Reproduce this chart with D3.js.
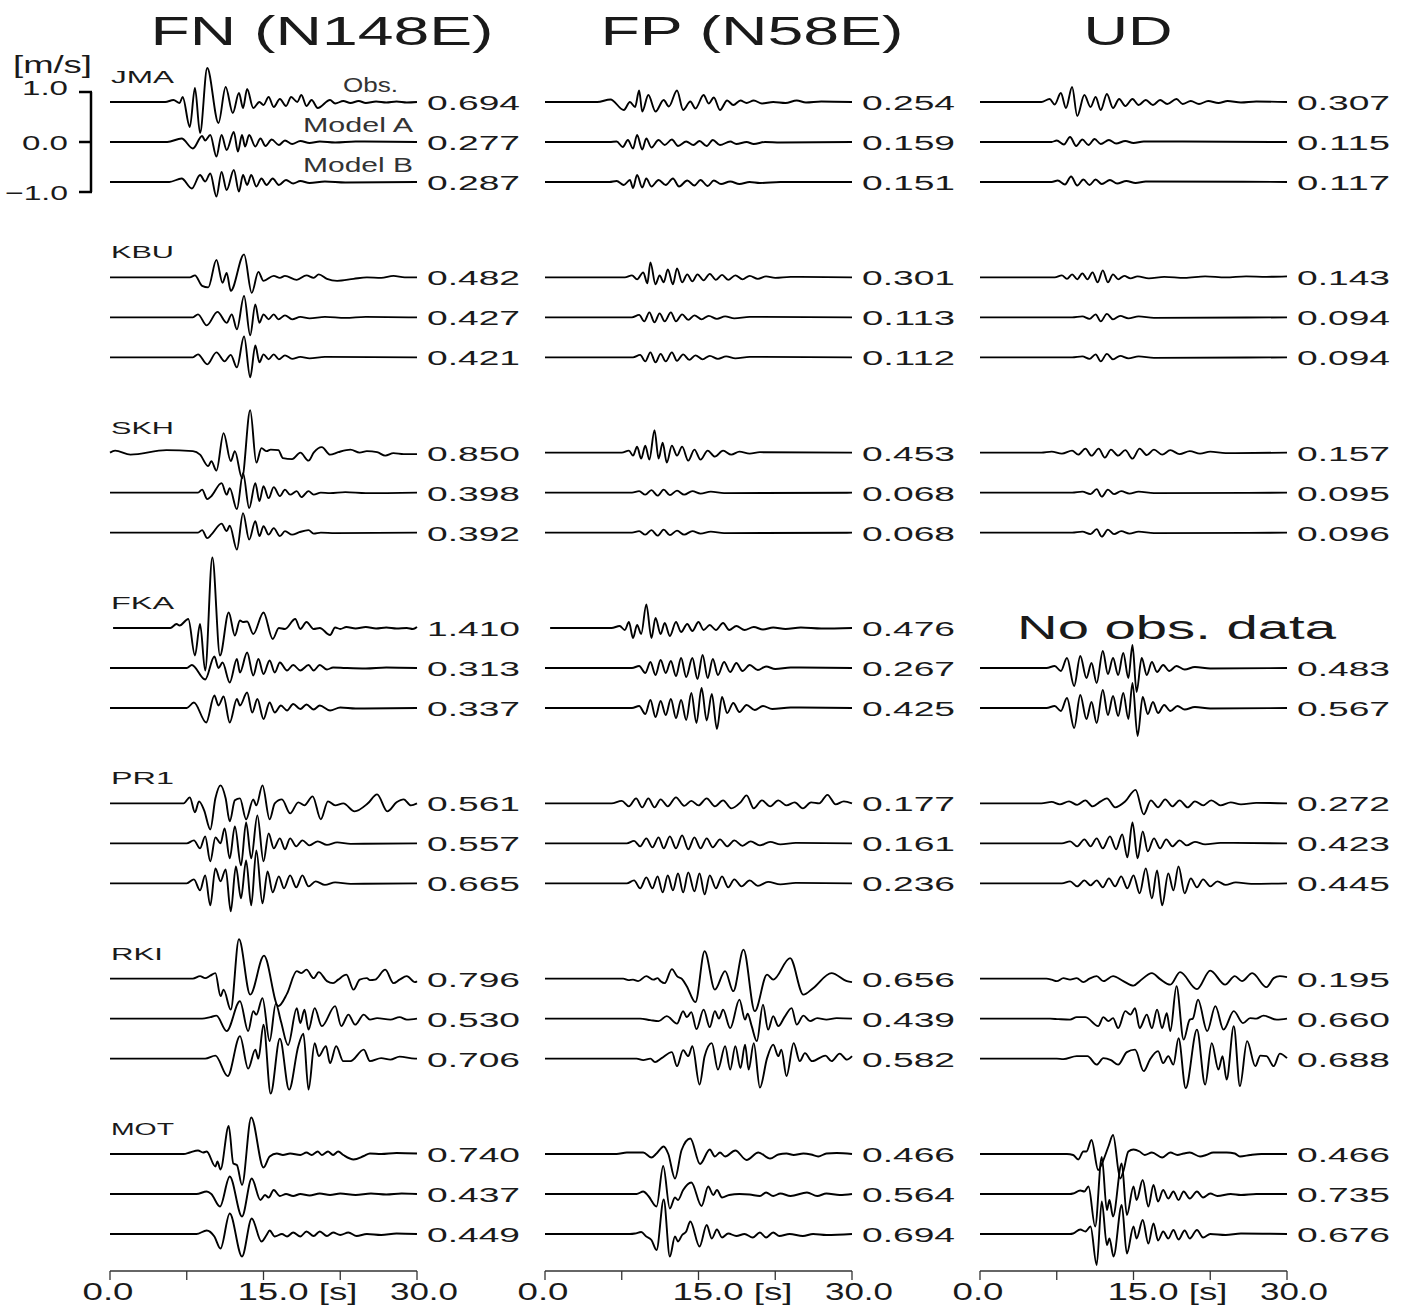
<!DOCTYPE html>
<html>
<head>
<meta charset="utf-8">
<script src="https://cdn.jsdelivr.net/npm/d3@7"></script>
<style>
  body { margin: 0; background: #fff; }
  text { font-family: "Liberation Sans", Arial, sans-serif; fill: #1a1a1a; }
</style>
</head>
<body>
<svg id="chart" width="1411" height="1307"></svg>
<script>
// stations, components and the peak velocities printed at the right of every trace
var stations = ["JMA", "KBU", "SKH", "FKA", "PR1", "RKI", "MOT"];
var components = ["FN (N148E)", "FP (N58E)", "UD"];
var traceNames = ["Obs.", "Model A", "Model B"];

var peakFN = [[0.694, 0.277, 0.287], [0.482, 0.427, 0.421], [0.850, 0.398, 0.392], [1.410, 0.313, 0.337],
              [0.561, 0.557, 0.665], [0.796, 0.530, 0.706], [0.740, 0.437, 0.449]];
var peakFP = [[0.254, 0.159, 0.151], [0.301, 0.113, 0.112], [0.453, 0.068, 0.068], [0.476, 0.267, 0.425],
              [0.177, 0.161, 0.236], [0.656, 0.439, 0.582], [0.466, 0.564, 0.694]];
var peakUD = [[0.307, 0.115, 0.117], [0.143, 0.094, 0.094], [0.157, 0.095, 0.096], [null, 0.483, 0.567],
              [0.272, 0.423, 0.445], [0.195, 0.660, 0.688], [0.466, 0.735, 0.676]];

var timeTicks = [0, 7.5, 15, 22.5, 30];
var scaleTicks = [-1, 0, 1];

// waveforms: [time s, velocity m/s] at the turning points
// each station/component = [Obs., Model A, Model B]
var jmaFN = [
  [[0,0],[5.4,0],[6.2,0.04],[6.8,-0.02],[7.1,0.1],[7.8,-0.5],[8.3,0.28],[8.8,-0.62],[9.5,0.68],[10.6,-0.42],[11.3,0.3],[12.0,-0.22],[12.6,0.18],[13.0,-0.12],[13.4,0.26],[14.0,-0.12],[14.6,0.0],[15.0,-0.06],[15.5,0.1],[16.0,-0.1],[16.6,0.06],[17.2,-0.08],[17.7,0.1],[18.3,0.0],[18.7,0.14],[19.2,-0.08],[19.7,0.04],[20.3,-0.12],[21.5,0.04],[22.0,-0.03],[22.8,0.02],[23.5,-0.02],[24.3,0.02],[25,-0.02],[26,0.01],[27,-0.01],[28,0.01],[29,-0.01],[30,0]],
  [[0,0],[5.6,0],[7.0,0.07],[8.1,-0.13],[9.0,0.12],[9.3,0.03],[9.8,0.14],[10.4,-0.29],[10.9,0.14],[11.4,-0.16],[12.1,0.2],[12.5,-0.19],[12.9,0.14],[13.2,-0.09],[13.6,0.14],[14.2,-0.09],[14.7,0.07],[15.2,-0.08],[15.8,0.05],[16.5,-0.06],[17.1,0.03],[17.8,-0.04],[18.6,0.02],[19.5,-0.02],[20.5,0.01],[22,-0.01],[24,0.01],[30,0]],
  [[0,0],[5.8,0],[7.0,0.07],[8.0,-0.13],[8.8,0.14],[9.3,0.01],[9.8,0.17],[10.4,-0.29],[10.9,0.2],[11.4,-0.16],[12.1,0.24],[12.6,-0.19],[13.0,0.14],[13.4,-0.06],[13.8,0.14],[14.3,-0.09],[14.8,0.07],[15.3,-0.06],[15.9,0.07],[16.5,-0.06],[17.2,0.04],[17.9,-0.03],[18.6,0.02],[19.5,-0.02],[21,0.01],[23,-0.01],[30,0]]
];
var jmaFP = [
  [[0,0],[5.1,0],[6.4,0.05],[7.7,-0.16],[8.3,0.0],[8.8,-0.1],[9.2,0.23],[9.5,-0.19],[10.1,0.14],[10.8,-0.19],[11.6,0.04],[12.1,-0.09],[12.9,0.23],[13.5,-0.16],[14.2,0.01],[14.7,-0.13],[15.5,0.14],[16.0,-0.03],[16.5,0.09],[17.1,-0.16],[17.8,0.03],[18.4,-0.06],[19.1,0.03],[19.7,-0.02],[20.4,0.03],[21.2,-0.03],[22.3,0.0],[23.5,-0.02],[24.6,0.03],[25.5,-0.01],[27,0.01],[30,0]],
  [[0,0],[6.3,0],[7.0,0.01],[7.6,-0.1],[8.1,0.04],[8.6,-0.13],[9.0,0.14],[9.5,-0.15],[9.9,0.07],[10.4,-0.11],[11.1,0.04],[11.7,-0.06],[12.4,0.05],[13.0,-0.08],[13.8,0.01],[14.5,-0.06],[15.1,0.02],[15.8,-0.08],[16.4,0.04],[17.1,-0.06],[18.1,0.01],[18.7,-0.04],[19.7,0.0],[20.4,-0.04],[21.5,0.0],[23,-0.01],[30,0]],
  [[0,0],[6.3,0],[7.0,0.02],[7.7,-0.06],[8.3,0.04],[8.6,-0.12],[9.0,0.14],[9.5,-0.11],[9.9,0.07],[10.4,-0.09],[11.1,0.04],[11.8,-0.06],[12.5,0.07],[13.1,-0.09],[13.9,0.03],[14.6,-0.07],[15.2,0.04],[15.9,-0.08],[16.5,0.03],[17.2,-0.04],[18.1,0.01],[19.0,-0.04],[20,0.0],[21,-0.02],[23,0.0],[30,0]]
];
var jmaUD = [
  [[0,0],[6.0,0],[6.8,0.06],[7.3,-0.05],[7.9,0.18],[8.4,-0.12],[9.0,0.3],[9.5,-0.28],[10.2,0.14],[10.8,-0.1],[11.3,0.1],[11.8,-0.16],[12.4,0.16],[13.0,-0.12],[13.6,0.06],[14.2,-0.08],[14.9,0.06],[15.5,-0.06],[16.2,0.04],[16.9,-0.06],[17.6,0.04],[18.3,-0.04],[19.2,0.06],[19.8,-0.04],[20.6,0.02],[21.4,-0.04],[22.3,0.02],[23.3,-0.02],[24.2,0.02],[25.5,-0.01],[27,0.01],[30,0]],
  [[0,0],[7.0,0],[7.5,0.03],[8.2,-0.05],[8.8,0.1],[9.4,-0.08],[10.0,0.05],[10.6,-0.06],[11.2,0.06],[11.8,-0.04],[12.6,0.04],[13.3,-0.03],[14.2,0.02],[15,-0.02],[16,0.01],[30,0]],
  [[0,0],[7.0,0],[7.6,0.03],[8.3,-0.05],[8.9,0.11],[9.5,-0.07],[10.1,0.05],[10.7,-0.06],[11.3,0.05],[11.9,-0.04],[12.7,0.04],[13.4,-0.03],[14.3,0.02],[15.2,-0.02],[16.2,0.01],[30,0]]
];

var kbuFN = [
  [[0,0],[7.8,0],[8.3,0.04],[9.0,-0.17],[9.6,-0.2],[10.4,0.35],[11.0,-0.11],[11.4,0.09],[11.8,-0.27],[13.1,0.46],[13.85,-0.31],[14.5,0.11],[15.0,-0.07],[16.0,0.03],[16.6,-0.01],[17.1,0.03],[18.25,-0.05],[19.2,0.04],[19.9,-0.01],[20.4,0.06],[21.2,-0.03],[22.2,-0.07],[23.8,-0.03],[25.1,0.0],[26.5,-0.01],[27.7,0.03],[28.8,0.0],[30,0]],
  [[0,0],[8.1,0],[8.6,0.06],[9.45,-0.16],[10.5,0.11],[11.4,-0.11],[11.9,0.06],[12.4,-0.24],[13.1,0.43],[13.7,-0.36],[14.2,0.26],[14.6,-0.11],[15.0,0.06],[15.5,-0.04],[16.0,0.06],[16.45,-0.04],[17.1,0.04],[17.8,-0.04],[18.6,0.01],[19.5,-0.02],[21,0.01],[23,-0.01],[25,0.01],[30,0]],
  [[0,0],[8.1,0],[8.6,0.06],[9.5,-0.14],[10.4,0.1],[11.2,-0.08],[11.8,0.05],[12.4,-0.2],[13.1,0.42],[13.7,-0.4],[14.2,0.24],[14.6,-0.1],[15.0,0.06],[15.5,-0.04],[16.0,0.06],[16.5,-0.04],[17.1,0.04],[17.8,-0.03],[18.6,0.01],[19.5,-0.02],[21,0.01],[30,0]]
];
var kbuFP = [
  [[0,0],[7.8,0],[8.5,0.04],[9.0,-0.04],[9.6,0.1],[10.0,-0.12],[10.3,0.3],[10.8,-0.14],[11.2,0.04],[11.6,-0.1],[12.0,0.16],[12.5,-0.14],[12.9,0.18],[13.4,-0.1],[13.9,0.06],[14.4,-0.08],[14.9,0.06],[15.5,-0.06],[16.1,0.07],[16.7,-0.05],[17.3,0.05],[17.9,-0.05],[18.6,0.04],[19.3,-0.04],[20.0,0.03],[20.8,-0.03],[21.6,0.02],[22.5,-0.01],[24,0.01],[30,0]],
  [[0,0],[8.5,0],[9.2,0.05],[9.7,-0.08],[10.2,0.1],[10.7,-0.1],[11.2,0.08],[11.7,-0.08],[12.3,0.1],[12.8,-0.08],[13.4,0.06],[14.0,-0.05],[14.6,0.04],[15.3,-0.04],[16.0,0.03],[16.8,-0.03],[17.6,0.02],[18.5,-0.02],[20,0.01],[30,0]],
  [[0,0],[8.6,0],[9.3,0.05],[9.8,-0.08],[10.3,0.1],[10.8,-0.1],[11.3,0.07],[11.8,-0.08],[12.4,0.1],[12.9,-0.07],[13.5,0.06],[14.1,-0.05],[14.7,0.04],[15.4,-0.04],[16.1,0.03],[16.9,-0.03],[17.7,0.02],[18.6,-0.02],[20,0.01],[30,0]]
];
var kbuUD = [
  [[0,0],[7.3,0],[8.0,0.04],[8.5,-0.03],[9.0,0.06],[9.5,-0.04],[10.0,0.08],[10.5,-0.04],[11.0,0.1],[11.5,-0.1],[12.0,0.14],[12.5,-0.1],[13.0,0.06],[13.5,-0.04],[14.1,0.03],[14.7,-0.02],[15.4,0.02],[16.5,-0.02],[18,0.01],[20,-0.01],[22,0.02],[24,0.0],[26,0.02],[28,0.01],[30,0.02]],
  [[0,0],[9,0],[10,0.02],[10.7,-0.03],[11.3,0.06],[11.8,-0.08],[12.4,0.07],[13.0,-0.04],[13.7,0.03],[14.5,-0.02],[15.5,0.02],[17,-0.01],[30,0]],
  [[0,0],[9,0],[10,0.02],[10.7,-0.03],[11.3,0.06],[11.8,-0.08],[12.4,0.07],[13.0,-0.04],[13.7,0.03],[14.5,-0.02],[15.5,0.02],[17,-0.01],[30,0]]
];

var skhFN = [
  [[0,0],[0.5,0.04],[2.0,-0.04],[5.5,0.05],[8.1,0.03],[8.8,-0.04],[9.6,-0.27],[9.9,-0.17],[10.4,-0.36],[11.1,0.39],[11.8,-0.17],[12.2,0.03],[12.9,-0.51],[13.7,0.85],[14.3,-0.2],[14.8,0.09],[15.3,0.03],[15.7,0.06],[16.45,0.05],[16.9,-0.11],[17.8,-0.13],[18.6,0.0],[19.4,-0.16],[19.9,0.0],[20.7,0.11],[21.5,-0.04],[22.3,0.01],[23.5,0.06],[24.4,0.0],[25.1,0.03],[26.1,0.01],[26.9,-0.06],[27.7,-0.01],[28.7,-0.03],[30,-0.03]],
  [[0,0],[8.6,0],[9.0,0.06],[9.5,-0.13],[9.9,-0.07],[10.9,0.19],[11.4,-0.04],[11.7,0.09],[12.4,-0.33],[13.0,0.39],[13.6,-0.31],[14.2,0.19],[14.6,-0.17],[15.0,0.13],[15.5,-0.11],[16.0,0.11],[16.6,-0.07],[17.1,0.06],[17.6,-0.04],[18.25,0.03],[18.7,-0.09],[19.4,0.03],[19.9,-0.04],[20.6,0.0],[21.5,-0.01],[23,0.01],[25,-0.01],[30,0]],
  [[0,0],[8.6,0],[9.0,0.05],[9.5,-0.11],[9.9,-0.04],[10.9,0.18],[11.4,0.03],[11.7,0.14],[12.4,-0.34],[13.0,0.39],[13.6,-0.14],[14.2,0.23],[14.6,-0.07],[15.0,0.13],[15.5,-0.04],[16.0,0.09],[16.6,-0.07],[17.1,0.03],[17.8,-0.04],[18.5,0.01],[19.4,0.05],[19.9,-0.02],[20.6,0.0],[22,-0.01],[30,0]]
];
var skhFP = [
  [[0,0],[7.5,0],[8.2,0.04],[8.6,-0.06],[9.0,0.12],[9.4,-0.12],[9.8,0.14],[10.2,-0.14],[10.7,0.45],[11.1,-0.12],[11.5,0.2],[11.9,-0.2],[12.4,0.14],[12.9,-0.06],[13.4,0.12],[14.0,-0.16],[14.6,0.06],[15.2,-0.14],[15.9,0.04],[16.6,-0.08],[17.4,0.04],[18.2,-0.04],[19.0,0.02],[20,-0.02],[21,0.01],[30,0]],
  [[0,0],[8.5,0],[9.2,0.03],[9.8,-0.04],[10.4,0.05],[11.0,-0.06],[11.6,0.06],[12.2,-0.05],[12.9,0.04],[13.6,-0.04],[14.4,0.03],[15.2,-0.02],[16.2,0.02],[17.5,-0.01],[30,0]],
  [[0,0],[8.5,0],[9.2,0.03],[9.8,-0.04],[10.4,0.05],[11.0,-0.06],[11.6,0.06],[12.2,-0.05],[12.9,0.04],[13.6,-0.04],[14.4,0.03],[15.2,-0.02],[16.2,0.02],[17.5,-0.01],[30,0]]
];
var skhUD = [
  [[0,0],[6,0],[7,0.02],[8,-0.02],[9,0.04],[9.6,-0.04],[10.3,0.08],[10.9,-0.06],[11.6,0.08],[12.2,-0.1],[12.8,0.06],[13.5,-0.06],[14.2,0.05],[14.9,-0.12],[15.6,0.08],[16.3,-0.05],[17.0,0.06],[17.8,-0.04],[18.6,0.05],[19.5,-0.03],[20.5,0.03],[21.5,-0.02],[22.5,0.02],[24,-0.01],[30,0]],
  [[0,0],[9,0],[10,0.02],[10.8,-0.03],[11.4,0.07],[11.9,-0.08],[12.5,0.06],[13.1,-0.03],[13.8,0.03],[14.6,-0.02],[15.5,0.02],[17,-0.01],[30,0]],
  [[0,0],[9,0],[10,0.02],[10.8,-0.03],[11.4,0.07],[11.9,-0.08],[12.5,0.06],[13.1,-0.03],[13.8,0.03],[14.6,-0.02],[15.5,0.02],[17,-0.01],[30,0]]
];

var fkaFN = [
  [[0.3,0],[5.9,0],[6.5,0.08],[6.8,0.05],[7.65,0.18],[8.3,-0.55],[8.8,0.08],[9.3,-0.85],[10.0,1.41],[10.75,-0.55],[11.6,0.31],[12.2,-0.15],[12.7,0.15],[13.0,0.12],[13.4,0.13],[14.0,-0.12],[15.0,0.31],[15.9,-0.22],[16.5,0.0],[17.1,-0.02],[18.1,0.18],[18.6,-0.02],[19.2,0.12],[19.9,-0.02],[20.5,0.0],[21.5,-0.14],[22.0,0.01],[22.5,-0.02],[23.1,0.02],[24,-0.01],[25,0.02],[26,-0.01],[27,0.01],[28,-0.01],[29,0.0],[29.6,-0.02],[30,0.02]],
  [[0,0],[7.5,0],[8.0,0.06],[9.3,-0.23],[10.2,0.23],[10.6,0.0],[11.0,0.11],[11.7,-0.29],[12.4,0.18],[12.7,-0.09],[13.4,0.31],[14.0,-0.15],[14.5,0.18],[15.0,-0.12],[15.6,0.15],[16.1,-0.09],[16.6,0.11],[17.3,-0.05],[17.9,0.06],[18.6,-0.05],[19.4,0.06],[19.9,-0.05],[20.5,0.06],[21.2,-0.03],[21.8,0.01],[23,0.0],[25,-0.01],[27,0.01],[30,0]],
  [[0,0],[7.5,0],[8.2,0.11],[9.4,-0.29],[10.2,0.25],[10.6,0.05],[11.1,0.23],[11.7,-0.29],[12.4,0.18],[12.7,0.05],[13.4,0.31],[13.9,-0.09],[14.4,0.18],[15.0,-0.22],[15.6,0.11],[16.1,-0.09],[16.7,0.05],[17.3,-0.05],[17.9,0.08],[18.6,-0.02],[19.2,0.07],[19.9,-0.03],[20.5,0.05],[21.5,-0.05],[22.5,0.01],[24,-0.01],[30,0]]
];
var fkaFP = [
  [[0.5,0],[6.5,0],[7.3,0.04],[7.8,-0.04],[8.2,0.12],[8.6,-0.2],[9.0,0.06],[9.4,-0.12],[9.9,0.47],[10.4,-0.2],[10.8,0.2],[11.3,-0.12],[11.7,0.1],[12.2,-0.16],[12.8,0.12],[13.3,-0.08],[13.9,0.08],[14.4,-0.06],[15.0,0.12],[15.5,-0.04],[16.1,0.06],[16.7,-0.04],[17.4,0.1],[18.0,-0.04],[18.7,0.04],[19.5,-0.04],[20.4,0.02],[21.3,-0.03],[22.3,0.01],[23.5,-0.02],[25,0.01],[27,-0.01],[30,0]],
  [[0,0],[8.5,0],[9.2,0.04],[9.8,-0.1],[10.3,0.12],[10.8,-0.14],[11.3,0.16],[11.8,-0.1],[12.3,0.14],[12.8,-0.16],[13.3,0.2],[13.8,-0.18],[14.4,0.2],[14.9,-0.22],[15.4,0.26],[15.9,-0.2],[16.4,0.18],[16.9,-0.14],[17.5,0.12],[18.1,-0.08],[18.7,0.1],[19.3,-0.06],[20.0,0.06],[20.8,-0.04],[21.6,0.03],[22.5,-0.02],[24,0.01],[30,0]],
  [[0,0],[8.5,0],[9.2,0.04],[9.8,-0.12],[10.3,0.16],[10.8,-0.18],[11.3,0.14],[11.8,-0.14],[12.3,0.18],[12.8,-0.2],[13.3,0.16],[13.8,-0.24],[14.3,0.3],[14.8,-0.3],[15.3,0.4],[15.8,-0.25],[16.3,0.28],[16.8,-0.42],[17.3,0.22],[17.8,-0.1],[18.4,0.1],[19.0,-0.08],[19.7,0.06],[20.5,-0.04],[21.3,0.04],[22.2,-0.02],[24,0.01],[30,0]]
];
var fkaUD = [
  null,
  [[0,0],[6.5,0],[7.3,0.04],[7.9,-0.06],[8.5,0.2],[9.2,-0.36],[9.8,0.24],[10.4,-0.2],[10.9,0.1],[11.4,-0.3],[12.0,0.34],[12.5,-0.12],[13.0,0.2],[13.5,-0.14],[14.0,0.3],[14.5,-0.2],[14.9,0.46],[15.3,-0.48],[15.8,0.2],[16.3,-0.14],[16.8,0.12],[17.3,-0.08],[17.9,0.06],[18.5,-0.06],[19.2,0.04],[20.0,-0.03],[21,0.02],[22.5,-0.01],[30,0]],
  [[0,0],[6.5,0],[7.3,0.04],[7.9,-0.06],[8.5,0.2],[9.2,-0.4],[9.8,0.26],[10.4,-0.22],[10.9,0.12],[11.4,-0.3],[12.0,0.36],[12.5,-0.14],[13.0,0.24],[13.5,-0.16],[14.0,0.3],[14.5,-0.22],[14.9,0.5],[15.4,-0.56],[15.9,0.22],[16.4,-0.12],[16.9,0.12],[17.4,-0.1],[18.0,0.06],[18.6,-0.06],[19.3,0.04],[20.0,-0.03],[21,0.02],[22.5,-0.01],[30,0]]
];

var pr1FN = [
  [[0,0],[7.2,0],[7.8,0.12],[8.3,-0.18],[8.7,0.04],[9.2,-0.14],[9.8,-0.52],[10.3,0.1],[10.8,0.36],[11.3,0.1],[11.7,-0.36],[12.2,0.06],[12.7,0.1],[13.3,-0.32],[14.0,0.08],[14.3,-0.04],[14.9,0.36],[15.6,-0.32],[16.1,0.0],[16.8,0.08],[17.6,-0.2],[18.4,0.02],[19.0,-0.04],[19.8,0.14],[20.6,-0.32],[21.3,0.04],[22.0,-0.04],[22.8,0.0],[23.9,-0.16],[25.2,0.0],[26.1,0.18],[27.1,-0.16],[28.0,0.02],[28.7,0.08],[29.4,-0.04],[30,0]],
  [[0,0],[7.5,0],[8.2,0.06],[8.8,-0.1],[9.3,0.14],[9.8,-0.36],[10.3,0.12],[10.8,0.0],[11.2,0.3],[11.7,-0.3],[12.2,0.34],[12.8,-0.44],[13.3,0.42],[13.8,-0.3],[14.4,0.56],[15.0,-0.36],[15.5,0.2],[16.0,-0.1],[16.6,0.1],[17.1,-0.12],[17.6,0.1],[18.2,-0.06],[18.8,0.06],[19.5,-0.04],[20.3,0.04],[21.2,-0.03],[22.2,0.02],[23.5,-0.01],[30,0]],
  [[0,0],[7.5,0],[8.2,0.08],[8.8,-0.14],[9.3,0.16],[9.8,-0.44],[10.3,0.3],[10.8,0.04],[11.3,0.28],[11.8,-0.56],[12.3,0.34],[12.8,-0.3],[13.3,0.46],[13.8,-0.44],[14.3,0.66],[14.9,-0.4],[15.4,0.24],[15.9,-0.18],[16.5,0.14],[17.0,-0.1],[17.6,0.16],[18.2,-0.08],[18.8,0.16],[19.4,-0.06],[20.1,0.04],[21,-0.03],[22,0.02],[23.5,-0.01],[30,0]]
];
var pr1FP = [
  [[0,0],[6.5,0],[7.5,0.05],[8.2,-0.06],[8.9,0.1],[9.5,-0.08],[10.1,0.1],[10.7,-0.08],[11.3,0.08],[12.0,-0.06],[12.8,0.12],[13.6,-0.05],[14.3,0.05],[15.0,-0.04],[15.8,0.1],[16.6,-0.06],[17.4,0.06],[18.2,-0.1],[19.1,0.02],[19.7,0.16],[20.4,-0.1],[21.2,0.06],[22.0,-0.06],[22.8,0.06],[23.6,-0.04],[24.4,0.02],[25.2,-0.1],[26.0,0.02],[26.8,0.0],[27.6,0.17],[28.4,-0.02],[29.2,0.04],[30,0]],
  [[0,0],[8,0],[8.7,0.05],[9.3,-0.06],[9.9,0.1],[10.5,-0.08],[11.1,0.12],[11.6,-0.1],[12.2,0.14],[12.8,-0.1],[13.4,0.16],[14.0,-0.12],[14.6,0.12],[15.2,-0.1],[15.8,0.1],[16.4,-0.08],[17.1,0.08],[17.8,-0.06],[18.5,0.06],[19.3,-0.05],[20.1,0.04],[21.0,-0.04],[22,0.03],[23,-0.02],[24.5,0.01],[30,0]],
  [[0,0],[8,0],[8.7,0.06],[9.3,-0.1],[9.9,0.12],[10.5,-0.1],[11.0,0.14],[11.5,-0.18],[12.0,0.16],[12.5,-0.14],[13.0,0.2],[13.5,-0.18],[14.0,0.22],[14.6,-0.16],[15.1,0.2],[15.6,-0.22],[16.1,0.16],[16.7,-0.1],[17.3,0.14],[17.9,-0.08],[18.5,0.08],[19.2,-0.06],[20.0,0.06],[20.8,-0.05],[21.8,0.03],[23,-0.02],[24.5,0.01],[30,0]]
];
var pr1UD = [
  [[0,0],[6,0],[7,0.03],[7.8,-0.02],[8.7,0.04],[9.5,-0.03],[10.3,0.06],[11.0,-0.06],[11.8,0.04],[12.4,0.1],[13.2,-0.08],[14.2,0.04],[15.2,0.27],[16.0,-0.22],[16.7,0.06],[17.4,-0.08],[18.1,0.08],[18.8,-0.06],[19.5,0.06],[20.3,-0.08],[21.0,0.04],[21.8,-0.04],[22.6,0.06],[23.5,-0.04],[24.5,0.02],[25.5,-0.02],[27,0.01],[30,0]],
  [[0,0],[8,0],[8.8,0.04],[9.5,-0.06],[10.2,0.08],[10.8,-0.06],[11.4,0.1],[12.0,-0.1],[12.7,0.14],[13.3,-0.12],[13.9,0.18],[14.4,-0.28],[14.9,0.42],[15.4,-0.3],[15.9,0.24],[16.4,-0.16],[17.0,0.1],[17.6,-0.1],[18.2,0.08],[18.8,-0.06],[19.5,0.06],[20.2,-0.04],[21,0.03],[22,-0.02],[23.5,0.01],[30,0]],
  [[0,0],[8,0],[8.8,0.04],[9.5,-0.06],[10.2,0.06],[10.8,-0.04],[11.4,0.06],[12.0,-0.08],[12.6,0.1],[13.2,-0.06],[13.8,0.14],[14.4,-0.1],[15.0,0.16],[15.6,-0.2],[16.2,0.3],[16.8,-0.3],[17.3,0.26],[17.8,-0.44],[18.4,0.2],[18.9,-0.14],[19.4,0.34],[20.0,-0.2],[20.6,0.1],[21.2,-0.08],[21.8,0.08],[22.5,-0.06],[23.2,0.04],[24,-0.03],[25,0.02],[26.5,-0.01],[30,0]]
];

var rkiFN = [
  [[0,0],[8.1,0],[8.8,0.05],[9.3,0.01],[9.8,0.06],[10.3,0.11],[10.8,-0.35],[11.1,-0.22],[11.8,-0.62],[12.6,0.79],[13.7,-0.32],[15.05,0.46],[16.45,-0.55],[17.3,-0.3],[18.25,0.15],[18.7,0.11],[19.2,0.18],[19.9,0.01],[20.4,0.13],[21.2,-0.05],[21.8,-0.09],[22.3,-0.02],[23.1,0.08],[23.8,-0.22],[24.4,-0.02],[25.1,0.01],[25.4,-0.03],[25.9,-0.02],[26.9,0.18],[27.7,-0.09],[28.3,-0.02],[29.0,0.05],[29.8,-0.07],[30,-0.05]],
  [[0,0],[9.0,0],[9.8,0.03],[10.4,0.06],[11.4,-0.25],[12.7,0.35],[13.5,-0.25],[14.0,0.15],[14.3,0.08],[14.9,0.41],[15.6,-0.45],[16.2,0.3],[16.7,-0.05],[17.4,-0.53],[18.25,0.21],[18.6,-0.09],[19.0,0.18],[19.4,-0.22],[20.0,0.21],[20.7,-0.15],[22.0,0.25],[22.6,-0.15],[23.3,0.08],[23.95,-0.12],[24.8,0.08],[25.4,-0.02],[26.1,0.01],[27.4,-0.02],[28.3,0.03],[29.0,-0.02],[30,0]],
  [[0,0],[9.3,0],[10.3,0.06],[11.5,-0.35],[12.7,0.45],[13.5,-0.2],[14.2,0.18],[14.5,0.0],[15.0,0.68],[15.7,-0.7],[16.6,0.4],[17.5,-0.62],[18.4,0.25],[18.9,0.5],[19.4,-0.62],[20.0,0.31],[20.4,0.05],[21.1,0.25],[21.5,-0.09],[22.1,0.25],[22.8,-0.05],[23.5,-0.05],[24.8,0.18],[25.4,-0.05],[26.5,0.01],[27.4,-0.02],[28.3,0.04],[29.8,0],[30,0]]
];
var rkiFP = [
  [[0,0],[7.65,0],[8.15,-0.03],[8.6,-0.02],[9.1,-0.05],[9.9,0.05],[10.6,-0.02],[11.0,0.01],[11.3,-0.05],[11.7,-0.09],[12.4,0.19],[12.9,0.05],[13.4,-0.01],[13.85,-0.15],[14.7,-0.47],[15.6,0.55],[16.6,-0.22],[17.6,0.15],[18.4,-0.25],[19.4,0.58],[20.5,-0.65],[21.7,0.08],[22.3,-0.02],[23.95,0.41],[25.25,-0.32],[26.2,-0.19],[28.0,0.11],[29.5,-0.05],[30,-0.07]],
  [[0,0],[9.3,0],[10.3,-0.03],[11.1,-0.05],[11.9,0.05],[12.9,-0.1],[13.5,0.15],[13.85,0.03],[14.3,0.13],[14.8,-0.21],[15.5,0.18],[16.1,-0.17],[16.6,0.15],[17.0,0.0],[17.4,0.18],[18.1,-0.19],[19.0,0.38],[19.55,-0.02],[19.8,0.1],[20.2,-0.15],[20.7,-0.45],[21.3,0.28],[21.8,-0.22],[22.3,0.05],[22.8,-0.15],[23.4,0.03],[24.1,0.21],[24.6,-0.12],[25.25,0.06],[25.9,-0.05],[26.6,0.01],[27.5,-0.02],[28.5,0.01],[30,0]],
  [[0,0],[8.95,0],[9.6,-0.03],[10.3,0.0],[10.75,-0.07],[11.4,0.01],[12.4,0.13],[12.9,-0.15],[13.5,0.17],[14.0,0.05],[14.4,0.25],[15.1,-0.52],[15.6,0.05],[16.3,0.31],[16.9,-0.22],[17.6,0.25],[18.1,-0.22],[18.6,0.25],[19.1,-0.19],[19.55,0.28],[19.9,-0.22],[20.4,0.31],[21.0,-0.58],[21.7,0.01],[22.3,0.28],[22.8,0.05],[23.1,0.18],[23.6,-0.35],[24.3,0.31],[24.9,-0.05],[25.4,0.11],[26.1,-0.05],[27.4,0.06],[28.0,-0.05],[28.8,0.1],[29.5,-0.02],[30,0.05]]
];
var rkiUD = [
  [[0,0],[6.5,0],[7.0,-0.02],[7.5,-0.05],[8.15,0.01],[8.8,-0.02],[9.45,0.01],[10.1,-0.07],[10.7,0.0],[11.4,0.05],[12.05,-0.05],[13.0,0.05],[14.0,-0.05],[15.0,-0.14],[15.6,-0.05],[16.8,0.11],[17.6,-0.01],[18.6,-0.12],[19.55,0.13],[21.2,-0.21],[22.5,0.16],[23.95,-0.12],[24.9,0.05],[25.6,-0.05],[26.6,0.11],[28.0,-0.17],[28.7,0.01],[29.3,0.05],[30,0.03]],
  [[0,0],[6.85,0],[7.65,-0.01],[8.8,-0.02],[9.45,0.03],[10.3,0.03],[11.55,-0.15],[12.05,0.03],[12.55,-0.05],[13.0,0.01],[13.5,-0.19],[14.2,0.15],[14.7,0.08],[15.15,0.21],[15.6,-0.19],[16.3,0.08],[16.8,-0.19],[17.3,0.18],[17.8,-0.19],[18.25,0.11],[18.6,-0.25],[19.2,0.65],[19.9,-0.42],[20.5,-0.02],[20.8,0.0],[21.3,0.38],[22.2,-0.25],[23.0,0.25],[23.8,-0.22],[24.8,0.15],[25.7,-0.09],[26.4,0.01],[27.0,0.0],[27.7,0.06],[29.0,-0.02],[30,0]],
  [[0,0],[7.5,0],[8.15,-0.01],[9.45,0.05],[10.5,0.05],[11.4,-0.12],[12.05,0.01],[12.8,-0.03],[13.5,-0.12],[14.35,0.13],[15.15,0.18],[16.0,-0.25],[16.6,-0.02],[17.4,0.15],[17.9,-0.09],[18.4,0.05],[18.9,-0.12],[19.4,0.41],[20.1,-0.59],[21.2,0.58],[22.0,-0.52],[22.65,0.31],[23.3,-0.22],[23.7,0.05],[24.1,-0.42],[24.8,0.65],[25.4,-0.55],[26.1,0.35],[26.9,-0.15],[27.4,0.06],[28.0,0.05],[28.7,-0.15],[29.3,0.1],[30,0.01]]
];

var motFN = [
  [[0,0],[7.2,0],[7.8,0.03],[8.6,0.07],[9.1,0.03],[9.45,0.05],[10.3,-0.25],[10.5,-0.15],[10.8,-0.31],[11.6,0.56],[12.05,-0.19],[12.4,-0.22],[12.9,-0.62],[13.8,0.73],[15.0,-0.27],[15.6,-0.05],[16.3,0.01],[16.9,-0.02],[17.6,0.01],[18.6,-0.02],[19.2,0.03],[19.7,-0.02],[20.3,0.05],[20.7,-0.02],[21.3,0.05],[21.8,-0.02],[22.3,0.05],[22.8,-0.02],[23.8,-0.11],[24.8,-0.04],[25.4,0.01],[26.5,0.0],[28,0.02],[30,0.01]],
  [[0,0],[8.45,0],[9.45,0.05],[9.9,0.0],[10.75,-0.25],[11.7,0.35],[12.9,-0.45],[13.85,0.31],[14.7,-0.12],[15.15,-0.02],[15.5,-0.07],[16.0,0.08],[16.6,-0.04],[17.2,0.0],[17.9,-0.04],[18.6,0.0],[19.5,-0.03],[20.5,0.01],[21.5,-0.02],[22.5,0.01],[24,-0.02],[25.5,0.01],[27,-0.01],[28.5,0.01],[30,0]],
  [[0,0],[8.45,0],[9.45,0.07],[10.2,-0.05],[10.8,-0.29],[11.7,0.41],[12.9,-0.45],[13.85,0.31],[14.8,-0.15],[15.3,-0.02],[15.6,0.07],[16.1,-0.05],[16.8,0.0],[17.3,-0.05],[17.9,0.03],[18.6,-0.05],[19.2,0.05],[19.9,-0.04],[20.5,0.05],[21.2,-0.04],[21.8,0.03],[22.5,-0.02],[23.3,0.03],[24.1,-0.04],[25.1,0.0],[26.5,-0.02],[28,0.01],[30,0]]
];
var motFP = [
  [[0,0],[7.0,0],[8.0,0.03],[9.6,0.03],[10.4,-0.07],[10.9,0.01],[11.6,0.15],[12.05,0.0],[12.7,-0.49],[13.35,0.08],[14.2,0.31],[15.15,-0.2],[16.1,0.09],[16.6,-0.05],[17.1,0.03],[17.6,-0.05],[18.6,0.07],[19.7,-0.12],[20.85,0.03],[22.0,-0.09],[22.8,-0.01],[23.6,0.01],[24.3,-0.02],[25.25,0.01],[26.0,-0.01],[26.7,-0.05],[27.5,0.01],[28.5,0.02],[30,0]],
  [[0,0],[8.95,0],[9.6,0.05],[10.1,-0.04],[10.9,-0.25],[11.55,0.56],[12.2,-0.29],[12.7,-0.07],[13.0,-0.12],[13.5,0.08],[14.3,0.23],[15.3,-0.24],[15.95,0.15],[16.45,-0.02],[16.8,0.08],[17.3,-0.07],[18.0,-0.02],[19.0,0.0],[20,-0.01],[21.0,-0.04],[21.6,0.03],[22.3,-0.04],[23.0,0.01],[24.0,-0.04],[25.6,0.03],[26.6,-0.04],[27.5,0.01],[28.8,-0.02],[30,0]],
  [[0,0],[8.3,0],[8.8,0.01],[9.4,0.04],[9.9,-0.05],[10.4,-0.12],[10.9,-0.32],[11.6,0.69],[12.2,-0.45],[12.7,-0.05],[13.0,-0.15],[13.4,-0.02],[13.8,0.05],[14.2,0.25],[15.1,-0.25],[15.8,0.18],[16.3,-0.09],[16.8,0.09],[17.3,-0.07],[17.9,0.01],[18.7,-0.04],[19.5,0.0],[20.3,-0.07],[21.0,0.03],[21.6,-0.07],[22.3,0.03],[22.9,-0.04],[23.9,0.0],[25.2,-0.04],[26.2,0.0],[27.5,-0.02],[30,0]]
];
var motUD = [
  [[0,0],[8.5,0],[9.1,-0.02],[9.6,-0.11],[10.1,0.05],[10.4,0.05],[10.9,0.28],[11.55,-0.32],[12.0,-0.15],[12.55,0.15],[13.0,0.38],[13.7,-0.49],[14.0,-0.35],[14.5,0.05],[15.0,0.09],[15.6,0.05],[16.1,-0.02],[16.8,0.03],[17.8,-0.07],[18.6,0.03],[19.3,-0.02],[19.9,0.01],[20.5,0.03],[21.5,-0.05],[22.1,-0.02],[22.8,0.03],[24.1,0.03],[24.9,0.01],[25.4,-0.05],[26.4,-0.02],[27.5,0.0],[30,0]],
  [[0,0],[8.8,0],[9.1,0.01],[9.8,0.07],[10.2,0.05],[10.6,0.15],[11.25,-0.65],[11.9,0.74],[12.4,-0.32],[12.65,-0.12],[13.0,-0.45],[13.85,0.61],[14.35,-0.42],[15.0,0.15],[15.3,-0.12],[15.9,0.28],[16.45,-0.25],[16.95,0.18],[17.4,-0.15],[17.9,0.08],[18.4,-0.09],[18.9,0.05],[19.4,-0.12],[19.9,0.05],[20.5,-0.09],[21.2,0.05],[21.8,-0.07],[22.5,0.01],[23.2,-0.04],[24.5,0.0],[25.5,-0.02],[27,0.0],[30,0]],
  [[0,0],[8.8,0],[9.1,0.01],[9.8,0.09],[10.3,0.05],[10.8,0.15],[11.4,-0.62],[11.9,0.65],[12.4,-0.22],[12.65,-0.09],[13.05,-0.45],[13.85,0.58],[14.35,-0.39],[15.0,0.15],[15.3,-0.09],[15.9,0.28],[16.45,-0.19],[16.95,0.21],[17.4,-0.13],[17.9,0.05],[18.4,-0.09],[18.9,0.08],[19.4,-0.11],[20.0,0.07],[20.5,-0.09],[21.2,0.08],[21.8,-0.07],[22.5,0.0],[24.0,-0.02],[25.5,0.01],[30,0]]
];

var wavesFN = [jmaFN, kbuFN, skhFN, fkaFN, pr1FN, rkiFN, motFN];
var wavesFP = [jmaFP, kbuFP, skhFP, fkaFP, pr1FP, rkiFP, motFP];
var wavesUD = [jmaUD, kbuUD, skhUD, fkaUD, pr1UD, rkiUD, motUD];

// ---- layout ----
var colWidth = 307;
var colX = d3.scalePoint().domain(components).range([110, 980]);
var rowY = d3.scalePoint().domain(stations).range([102, 1154]);   // Obs. baseline of each station
var traceY = d3.scalePoint().domain(traceNames).range([0, 80]);    // offset of the three traces
var amp = d3.scaleLinear().domain([-1, 1]).range([50, -50]);       // 50 px per m/s

var svg = d3.select("#chart");

var panels = [
  {name: components[0], waves: wavesFN, peaks: peakFN, titleX: 322, titleW: 343},
  {name: components[1], waves: wavesFP, peaks: peakFP, titleX: 752, titleW: 303},
  {name: components[2], waves: wavesUD, peaks: peakUD, titleX: 1128, titleW: 89}
];

panels.forEach(function(p) {
  var x0 = colX(p.name);
  var x = d3.scaleLinear().domain([0, 30]).range([x0, x0 + colWidth]);
  var g = svg.append("g");

  // column title
  g.append("text")
    .attr("x", p.titleX)
    .attr("y", 45)
    .attr("text-anchor", "middle")
    .attr("font-size", 40)
    .attr("textLength", p.titleW)
    .attr("lengthAdjust", "spacingAndGlyphs")
    .text(p.name);

  stations.forEach(function(st, i) {
    traceNames.forEach(function(tn, j) {
      var base = rowY(st) + traceY(tn);
      var wave = p.waves[i][j];
      if (!wave) return;
      var line = d3.line()
        .x(function(d) { return x(d[0]); })
        .y(function(d) { return base + amp(d[1]); })
        .curve(d3.curveMonotoneX);
      g.append("path")
        .attr("d", line(wave))
        .attr("fill", "none")
        .attr("stroke", "#000")
        .attr("stroke-width", 1.9)
        .attr("stroke-linejoin", "round");
      g.append("text")
        .attr("x", x0 + 317)
        .attr("y", base + 8)
        .attr("font-size", 20)
        .attr("textLength", 93)
        .attr("lengthAdjust", "spacingAndGlyphs")
        .text(d3.format(".3f")(p.peaks[i][j]));
    });
  });

  // time axis
  var axis = g.append("g").attr("transform", "translate(0,1271)");
  axis.append("line")
    .attr("x1", x(0)).attr("x2", x(30))
    .attr("stroke", "#333").attr("stroke-width", 1.3);
  axis.selectAll(".tick")
    .data(timeTicks)
    .enter().append("line")
    .attr("x1", function(d) { return x(d); })
    .attr("x2", function(d) { return x(d); })
    .attr("y1", 0).attr("y2", 9)
    .attr("stroke", "#333").attr("stroke-width", 1.3);
  axis.append("text").attr("x", x(0) - 2).attr("y", 29).attr("text-anchor", "middle")
    .attr("font-size", 24).attr("textLength", 51).attr("lengthAdjust", "spacingAndGlyphs").text("0.0");
  axis.append("text").attr("x", x(15) - 26).attr("y", 29)
    .attr("font-size", 24).attr("textLength", 120).attr("lengthAdjust", "spacingAndGlyphs").text("15.0 [s]");
  axis.append("text").attr("x", x(30) + 7).attr("y", 29).attr("text-anchor", "middle")
    .attr("font-size", 24).attr("textLength", 68).attr("lengthAdjust", "spacingAndGlyphs").text("30.0");
});

// station names
svg.selectAll(".station")
  .data(stations)
  .enter().append("text")
  .attr("x", 111)
  .attr("y", function(d) { return rowY(d) - 19; })
  .attr("font-size", 17)
  .attr("textLength", function(d) { return d === "RKI" ? 52 : 63; })
  .attr("lengthAdjust", "spacingAndGlyphs")
  .text(function(d) { return d; });

// trace names on the first station
var traceLabelW = {"Obs.": 55, "Model A": 110, "Model B": 110};
svg.selectAll(".tlabel")
  .data(traceNames)
  .enter().append("text")
  .attr("x", function(d) { return d === "Obs." ? 398 : 413; })
  .attr("y", function(d) { return rowY("JMA") + traceY(d) - 10; })
  .attr("text-anchor", "end")
  .attr("font-size", 20)
  .style("fill", "#333")
  .attr("textLength", function(d) { return traceLabelW[d]; })
  .attr("lengthAdjust", "spacingAndGlyphs")
  .text(function(d) { return d; });

// amplitude scale bar
var scaleY = d3.scaleLinear().domain([-1, 1]).range([192, 92]);
var bar = svg.append("g").attr("transform", "translate(91,0)");
bar.append("line").attr("y1", scaleY(-1)).attr("y2", scaleY(1))
  .attr("stroke", "#000").attr("stroke-width", 2.5);
bar.selectAll(".stick")
  .data(scaleTicks)
  .enter().append("line")
  .attr("x1", -12).attr("x2", 1)
  .attr("y1", function(d) { return scaleY(d); })
  .attr("y2", function(d) { return scaleY(d); })
  .attr("stroke", "#000").attr("stroke-width", 2.5);
bar.selectAll(".slabel")
  .data(scaleTicks)
  .enter().append("text")
  .attr("x", -23)
  .attr("y", function(d) { return scaleY(d) + (d === 1 ? 3 : 8); })
  .attr("text-anchor", "end")
  .attr("font-size", 21)
  .attr("textLength", function(d) { return d < 0 ? 63 : 46; })
  .attr("lengthAdjust", "spacingAndGlyphs")
  .text(function(d) { return d3.format(".1f")(d); });
svg.append("text")
  .attr("x", 13).attr("y", 73)
  .attr("font-size", 23)
  .attr("textLength", 79)
  .attr("lengthAdjust", "spacingAndGlyphs")
  .text("[m/s]");

// missing observation
svg.append("text")
  .attr("x", 1017).attr("y", 639)
  .attr("font-size", 34)
  .attr("textLength", 319)
  .attr("lengthAdjust", "spacingAndGlyphs")
  .text("No obs. data");
</script>
</body>
</html>
